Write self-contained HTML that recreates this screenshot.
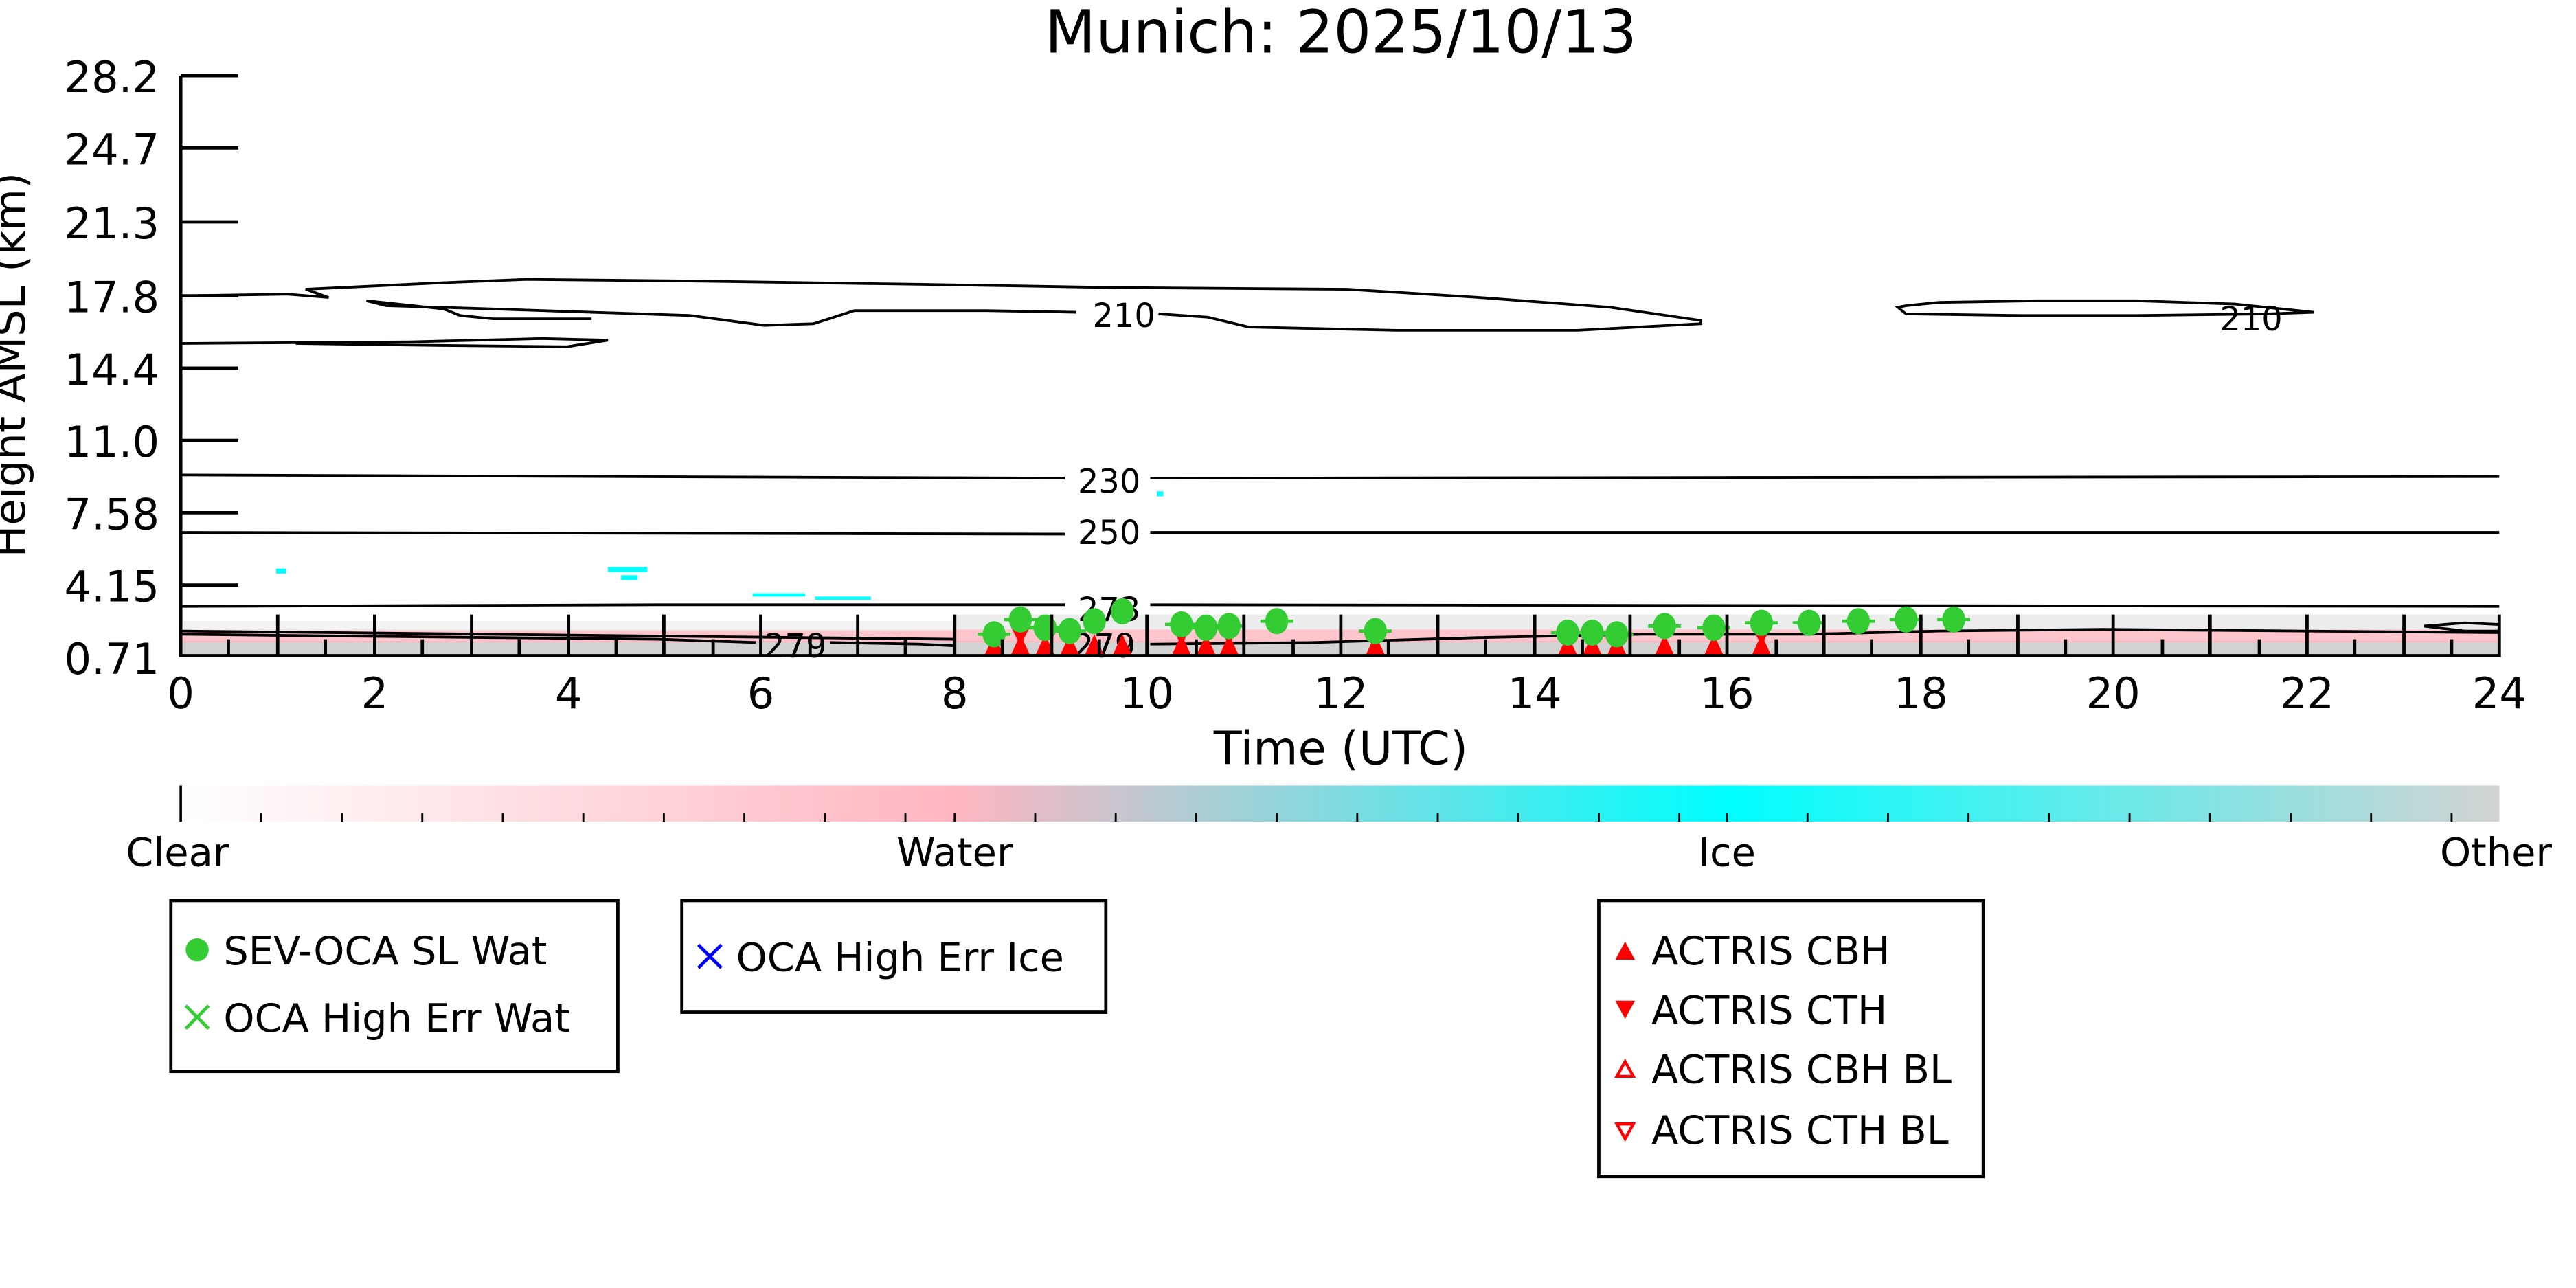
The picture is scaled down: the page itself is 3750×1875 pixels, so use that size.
<!DOCTYPE html>
<html><head><meta charset="utf-8"><style>
html,body{margin:0;padding:0;background:#fff;}
svg{display:block;}
text{font-family:"DejaVu Sans","Liberation Sans",sans-serif;}
</style></head><body>
<svg width="3750" height="1875" viewBox="0 0 1567.7 783.8" xmlns="http://www.w3.org/2000/svg">
<defs>
<linearGradient id="cb" x1="0" x2="1" y1="0" y2="0">
<stop offset="0" stop-color="#ffffff"/>
<stop offset="0.333" stop-color="#ffb6c1"/>
<stop offset="0.667" stop-color="#00ffff"/>
<stop offset="1" stop-color="#d3d3d3"/>
</linearGradient>
</defs>
<text x="816" y="32" font-size="36" text-anchor="middle">Munich: 2025/10/13</text>
<rect x="110" y="390" width="1411" height="9" fill="#d3d3d3"/>
<rect x="110" y="383" width="1411" height="8" fill="#ffb6c1" opacity="0.8"/>
<rect x="581" y="374" width="940" height="9" fill="#e4e4e4" opacity="0.7"/>
<rect x="110" y="378" width="470" height="6" fill="#eeeeee" opacity="0.7"/>
<g fill="#00ffff">
<rect x="168" y="346" width="6" height="3"/><rect x="370" y="345" width="24" height="3"/><rect x="378" y="350" width="10" height="3"/>
<rect x="458" y="361" width="32" height="2"/><rect x="496" y="363" width="34" height="2"/><rect x="704" y="299" width="4" height="3"/>
</g>
<g fill="none" stroke="#000" stroke-width="1.6">
<path d="M110 180 L175 179 L200 181 L186 176 L270 172 L320 170 L420 171 L560 173 L680 175 L820 176 L900 181 L980 187 L1035 195 L1035 197 L960 201 L850 201 L760 199 L735 193 L705 191"/>
<path d="M655 190 L600 189 L520 189 L495 197 L465 198 L420 192 L360 190 L300 188 L235 186 L223 183 L270 188 L280 192 L300 194 L360 194"/>
<path d="M110 209 L250 208 L330 206 L370 207 L345 211 L250 210 L180 209"/>
<path d="M1160 186 L1180 184 L1240 183 L1300 183 L1360 185 L1408 190 L1380 191 L1300 192 L1230 192 L1160 191 L1155 187 Z"/>
<path d="M110 289 L648 291 M700 291 L1521 290"/>
<path d="M110 324 L648 325 M700 324 L1521 324"/>
<path d="M110 369 L400 368 L648 368 M700 368 L1521 369"/>
<path d="M110 386 L200 387 L300 388 L400 389 L460 391 M505 391 L560 392 L580 393 M700 392 L800 391 L900 388 L1000 386 L1100 386 L1180 384 L1280 383 L1400 384 L1521 385"/>
<path d="M1475 381 L1500 379 L1521 380 M1475 381 L1500 384 L1521 384"/>
<path d="M110 384 L580 389"/>
</g>
<g font-size="20" text-anchor="middle" fill="#000">
<text x="684" y="199">210</text><text x="1370" y="201">210</text>
<text x="675" y="300">230</text><text x="675" y="331">250</text>
<text x="675" y="378">273</text><text x="484" y="400">279</text><text x="672" y="400">279</text>
</g>
<g fill="#ff0000">
<path d="M599 399 l6 -13 l6 13z M615 399 l6 -13 l6 13z M630 399 l6 -13 l6 13z M645 399 l6 -13 l6 13z M660 399 l6 -13 l6 13z M677 399 l6 -13 l6 13z M713 399 l6 -13 l6 13z M728 399 l6 -13 l6 13z M742 399 l6 -13 l6 13z M831 399 l6 -13 l6 13z M948 399 l6 -13 l6 13z M963 399 l6 -13 l6 13z M978 399 l6 -13 l6 13z M1007 399 l6 -13 l6 13z M1037 399 l6 -13 l6 13z M1066 399 l6 -13 l6 13z"/>
<path d="M615 381 l6 12 l6 -12z M630 381 l6 12 l6 -12z M645 381 l6 12 l6 -12z M713 381 l6 12 l6 -12z M728 381 l6 12 l6 -12z M742 381 l6 12 l6 -12z M963 381 l6 12 l6 -12z M1037 381 l6 12 l6 -12z M1066 381 l6 12 l6 -12z"/>
</g>
<g fill="#33cc33" stroke="#33cc33" stroke-width="2">
<g stroke="none">
<ellipse cx="605" cy="386" rx="7" ry="8"/><ellipse cx="621" cy="377" rx="7" ry="8"/><ellipse cx="636" cy="382" rx="7" ry="8"/><ellipse cx="651" cy="384" rx="7" ry="8"/><ellipse cx="666" cy="378" rx="7" ry="8"/><ellipse cx="683" cy="372" rx="7" ry="8"/><ellipse cx="719" cy="380" rx="7" ry="8"/><ellipse cx="734" cy="382" rx="7" ry="8"/><ellipse cx="748" cy="381" rx="7" ry="8"/><ellipse cx="777" cy="378" rx="7" ry="8"/><ellipse cx="837" cy="384" rx="7" ry="8"/><ellipse cx="954" cy="385" rx="7" ry="8"/><ellipse cx="969" cy="385" rx="7" ry="8"/><ellipse cx="984" cy="386" rx="7" ry="8"/><ellipse cx="1013" cy="381" rx="7" ry="8"/><ellipse cx="1043" cy="382" rx="7" ry="8"/><ellipse cx="1072" cy="379" rx="7" ry="8"/><ellipse cx="1101" cy="379" rx="7" ry="8"/><ellipse cx="1131" cy="378" rx="7" ry="8"/><ellipse cx="1160" cy="377" rx="7" ry="8"/><ellipse cx="1189" cy="377" rx="7" ry="8"/>
</g>
<path d="M595 386h20M611 377h20M626 382h20M641 384h20M709 380h20M724 382h20M738 381h20M767 378h20M827 384h20M944 385h20M959 385h20M974 386h20M1003 381h20M1033 382h20M1062 379h20M1091 379h20M1121 378h20M1150 377h20M1179 377h20"/>
</g>
<g stroke="#000" stroke-width="2" fill="none">
<path d="M110 46 V399 H1521 V374"/>
<path d="M110 46h35M110 90h35M110 135h35M110 180h35M110 224h35M110 268h35M110 312h35M110 356h35"/>
</g>
<g stroke="#000" stroke-width="2">
<path d="M169 399v-25M228 399v-25M287 399v-25M346 399v-25M404 399v-25M463 399v-25M522 399v-25M581 399v-25M640 399v-25M698 399v-25M757 399v-25M816 399v-25M875 399v-25M934 399v-25M992 399v-25M1051 399v-25M1110 399v-25M1169 399v-25M1228 399v-25M1286 399v-25M1345 399v-25M1404 399v-25M1463 399v-25"/>
<path d="M139 399v-10M198 399v-10M257 399v-10M316 399v-10M375 399v-10M434 399v-10M493 399v-10M551 399v-10M610 399v-10M669 399v-10M728 399v-10M787 399v-10M845 399v-10M904 399v-10M963 399v-10M1022 399v-10M1081 399v-10M1139 399v-10M1198 399v-10M1257 399v-10M1316 399v-10M1375 399v-10M1433 399v-10M1492 399v-10"/>
</g>
<g font-size="26" text-anchor="end">
<text x="97" y="56">28.2</text><text x="97" y="100">24.7</text><text x="97" y="145">21.3</text><text x="97" y="190">17.8</text><text x="97" y="234">14.4</text><text x="97" y="278">11.0</text><text x="97" y="322">7.58</text><text x="97" y="366">4.15</text><text x="97" y="410">0.71</text>
</g>
<g font-size="26" text-anchor="middle">
<text x="110" y="431">0</text><text x="228" y="431">2</text><text x="346" y="431">4</text><text x="463" y="431">6</text><text x="581" y="431">8</text><text x="698" y="431">10</text><text x="816" y="431">12</text><text x="934" y="431">14</text><text x="1051" y="431">16</text><text x="1169" y="431">18</text><text x="1286" y="431">20</text><text x="1404" y="431">22</text><text x="1521" y="431">24</text>
<text x="816" y="465" font-size="28">Time (UTC)</text>
</g>
<text x="0" y="0" font-size="26" text-anchor="middle" transform="translate(15 222) rotate(-90)">Height AMSL (km)</text>
<rect x="110" y="478" width="1411" height="22" fill="url(#cb)"/>
<path d="M110 478v22" stroke="#000" stroke-width="1.5"/>
<g stroke="#000" stroke-width="1.2">
<path d="M110 500v-5M159 500v-5M208 500v-5M257 500v-5M306 500v-5M355 500v-5M404 500v-5M453 500v-5M502 500v-5M551 500v-5M581 500v-5M630 500v-5M679 500v-5M728 500v-5M777 500v-5M826 500v-5M875 500v-5M924 500v-5M973 500v-5M1022 500v-5M1051 500v-5M1100 500v-5M1149 500v-5M1198 500v-5M1247 500v-5M1296 500v-5M1345 500v-5M1394 500v-5M1443 500v-5M1492 500v-5"/>
</g>
<g font-size="24" text-anchor="middle">
<text x="108" y="527">Clear</text><text x="581" y="527">Water</text><text x="1051" y="527">Ice</text><text x="1519" y="527">Other</text>
</g>
<g fill="none" stroke="#000" stroke-width="2">
<rect x="104" y="548" width="272" height="104"/>
<rect x="415" y="548" width="258" height="68"/>
<rect x="973" y="548" width="234" height="168"/>
</g>
<g font-size="24">
<circle cx="120" cy="578" r="7" fill="#33cc33"/>
<text x="136" y="587">SEV-OCA SL Wat</text>
<path d="M113 612l14 14M127 612l-14 14" stroke="#33cc33" stroke-width="2"/>
<text x="136" y="628">OCA High Err Wat</text>
<path d="M425 575l14 14M439 575l-14 14" stroke="#0000ff" stroke-width="2"/>
<text x="448" y="591">OCA High Err Ice</text>
<path d="M983 584l6 -11l6 11z" fill="#ff0000"/>
<text x="1005" y="587">ACTRIS CBH</text>
<path d="M983 609l6 11l6 -11z" fill="#ff0000"/>
<text x="1005" y="623">ACTRIS CTH</text>
<path d="M984 655l5 -9l5 9z" fill="none" stroke="#ff0000" stroke-width="1.8"/>
<text x="1005" y="659">ACTRIS CBH BL</text>
<path d="M984 684l5 9l5 -9z" fill="none" stroke="#ff0000" stroke-width="1.8"/>
<text x="1005" y="696">ACTRIS CTH BL</text>
</g>
</svg>
</body></html>
